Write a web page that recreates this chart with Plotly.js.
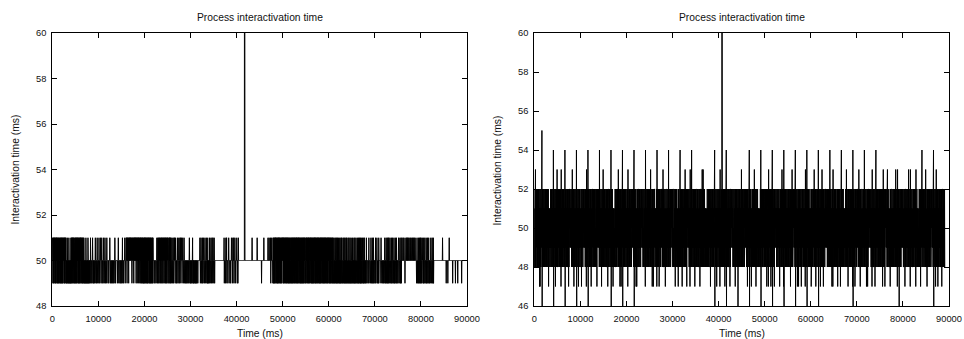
<!DOCTYPE html>
<html>
<head>
<meta charset="utf-8">
<script src="https://cdn.plot.ly/plotly-3.0.1.min.js"></script>
<style>
  html, body { margin: 0; padding: 0; background: #ffffff; }
  #chart { width: 964px; height: 339px; }
</style>
</head>
<body>
<div id="chart"></div>
<script>
// Sample codes: each character is one activation.
const levels = {"1":46,"2":47,"3":48,"4":49,"5":50,"6":51,"7":52,"8":53,"9":54,"A":55,"X":80};

// Left chart: 1000 ms per string (20 activations of ~50 ms)
const leftSamples = [
  "56464654656465464656","46546465464565464654","64654646556464654656","45454654545465454545",
  "46465464656465465464","56464654656465464654","64656465465464654654","54545465454545465454",
  "54555465545554565545","45545556545545565455","55465545556545565455","54565545565455545655",
  "55455545556554555455","54555455545565545555","55545556545555455545","45555645554555565455",
  "56565465656546565656","65656545656565465656","56564656546565646565","46564654656465464564",
  "64656465465464654656","46546465464565464655","55455545555455655465","46554656546554656465",
  "54656546556465465465","65465546564654656455","55465545656554565545","54565545565455645655",
  "56545565545565455545","54554555455545565455","45455455564545455455","54545455455545555555",
  "56545565545465545655","54565545565455464545","55465545565455645565","54565455555555555555",
  "55555555555555555555","55555564555545655645","55545565555455545565","55546555645556545555",
  "56545545655555555555","555555555555555X5555","55555555555555555555","55555556555555555555",
  "55555555565555555555","55555555455555555565","55555555555555556555","56555556455565555465",
  "46465464656465465464","64656465465464654656","56464654656465464656","46546465464565464654",
  "64654646556464654656","46465464656465465464","65464654646546564654","46564654656464654656",
  "64654646546465464656","46465465464656465464","56464654656465464654","64656465465464654656",
  "46546465464565464654","46545465456454654645","54654546545464564554","46545645465454654645",
  "54564546545465454654","45465455464546545465","54546545464556454645","46545465545464654554",
  "55465545555455645555","54565545465455645455","55465455565455454655","55545556554555455545",
  "54565545465455645465","46545565545465455645","55465454565455645455","54565545565454645565",
  "55565556555455565556","56555655565555655565","55565556555655565555","54565545465455645465",
  "46545565545465455645","55465454565455645455","54565545565454645555","55555555555555555555",
  "55555555555555655555","55555555554555555455","55565555555555555545","55555555554555555555",
  "45555555555555555455","55555555555555555555"
];

// Right chart: one line per ~2500 ms period between the large 54 ms spikes
const rightSamples = [
  ["7363783737","6473736473","7362726373","647"],
  ["A173647363","7364737463","7353746372","6364635473","6473736473"],
  ["9173647362","7463738373","3747363747","6372836473","7364737463"],
  ["9174736373","3736472637","7475647463","7383746372","7363746373"],
  ["9173647362","7364737463","3627374637","4757464737","6372836473"],
  ["9174736373","4737263747","7363746373","7353746372","7475647463"],
  ["9373647362","7463738373","6473736473","3736472637","7364737463"],
  ["9173647362","6364635473","3747363747","7383746372","4737263747"],
  ["9174736373","7364737463","6372836473","7363746373","4757464737"],
  ["9173647362","3627374637","7364737463","7475647463","7353746372"],
  ["9374637473","6473736473","7383746372","4737263747","7364636372"],
  ["9373647362","3747363747","7463738373","3736472637","7363746373"],
  ["9374637473","4757464737","7353746372","7364737463","3627374637"],
  ["9373647362","7363746373","7383746372","7475647463","6372836473"],
  ["9374637473","4737263747","7364737463","3736472637","7463738373"],
  ["8373647363","6364635473","6473736473","3627374637","3747363747"],
  ["9173647362","7364737463","6372836473","73X3746373","4737263747"],
  ["9174736373","3736472637","7475647463","7353746372","7364737463"],
  ["7163746373","7463738373","7363746373","4757464737","3627374637"],
  ["9173647362","6473736473","7383746372","7364737463","6364635473"],
  ["9174736373","3747363747","3736472637","6372836473","4737263747"],
  ["9173647362","7475647463","7364737463","3627374637","7383746372"],
  ["9174736373","7363746373","7353746372","7463738373","4757464737"],
  ["9173647362","4737263747","3736472637","6473736473","6372836473"],
  ["9174736373","7364636372","3747363747","7383746372","7364737463"],
  ["9173647362","7463738373","3627374637","7475647463","7363746373"],
  ["9373647362","6372836473","7364737463","4737263747","3736472637"],
  ["9374637473","6364635473","7383746372","6473736473","7353746372"],
  ["9173647362","3747363747","7463738373","3627374637","7364737463"],
  ["9373647362","4737263747","7475647463","6372836473","3736472637"],
  ["9374637473","7364737463","7353746372","7383746372","4757464737"],
  ["8373647363","3627374637","7363746373","7463738373","6372836473"],
  ["7163746373","7475647463","3736472637","7364737463","7383746372"],
  ["8373647363","3747363747","6372836473","6364635473","4737263747"],
  ["9374637473","7463738373","3627374637","6473736473","4757464737"],
  ["9173647362","7383746372","7364737463","3736472637","7353746373"]
];

const chartTitle = "Process interactivation time";
const xTitle = "Time (ms)";
const yTitle = "Interactivation time (ms)";
const xTicks = [0, 10000, 20000, 30000, 40000, 50000, 60000, 70000, 80000, 90000];
const leftYTicks = [48, 50, 52, 54, 56, 58, 60];
const rightYTicks = [46, 48, 50, 52, 54, 56, 58, 60];

function decode(str) {
  const y = Array.from(str).map(c => levels[c]);
  const x = [];
  let t = 0;               // activation instants = running sum of the interactivation times
  for (const v of y) { x.push(t); t += v; }
  return {x, y};
}

const L = decode(leftSamples.join(""));
const R = decode(rightSamples.map(p => p.join("")).join(""));

const FONT = "Liberation Sans, Arial, Helvetica, sans-serif";
const lineStyle = {color: "#000000", width: 1, simplify: false, shape: "linear"};

const traces = [
  {x: L.x, y: L.y, type: "scatter", mode: "lines", line: lineStyle, xaxis: "x", yaxis: "y", hoverinfo: "skip"},
  {x: R.x, y: R.y, type: "scatter", mode: "lines", line: lineStyle, xaxis: "x2", yaxis: "y2", hoverinfo: "skip"}
];

function axisBase(extra) {
  return Object.assign({
    showline: true, linecolor: "#000000", linewidth: 1, mirror: "ticks",
    ticks: "inside", ticklen: 5, tickwidth: 1, tickcolor: "#000000",
    showgrid: false, zeroline: false, fixedrange: true,
    tickfont: {family: FONT, size: 9.3, color: "#111111"},
    tickmode: "array"
  }, extra);
}

const W = 964, H = 339;
const px = v => v / W, py = v => 1 - v / H;

const layout = {
  width: W, height: H,
  margin: {l: 0, r: 0, t: 0, b: 0, pad: 0},
  paper_bgcolor: "#ffffff", plot_bgcolor: "#ffffff",
  showlegend: false,
  font: {family: FONT, color: "#111111"},
  xaxis: axisBase({domain: [px(52.3), px(467)], anchor: "y", range: [0, 90000], tickvals: xTicks, ticktext: xTicks.map(String), ticklabelstandoff: 4}),
  yaxis: axisBase({domain: [py(306), py(33)], anchor: "x", range: [48, 60], tickvals: leftYTicks, ticktext: leftYTicks.map(String), ticklabelstandoff: 3}),
  xaxis2: axisBase({domain: [px(534.3), px(949)], anchor: "y2", range: [0, 90000], tickvals: xTicks, ticktext: xTicks.map(String), ticklabelstandoff: 4}),
  yaxis2: axisBase({domain: [py(306), py(33)], anchor: "x2", range: [46, 60], tickvals: rightYTicks, ticktext: rightYTicks.map(String), ticklabelstandoff: 3}),
  annotations: [
    {text: chartTitle, xref: "paper", yref: "paper", x: px(259.6), y: py(17), xanchor: "center", yanchor: "middle", showarrow: false, font: {family: FONT, size: 10.3, color: "#111111"}},
    {text: chartTitle, xref: "paper", yref: "paper", x: px(741.6), y: py(17), xanchor: "center", yanchor: "middle", showarrow: false, font: {family: FONT, size: 10.3, color: "#111111"}},
    {text: xTitle, xref: "paper", yref: "paper", x: px(259.6), y: py(333.5), xanchor: "center", yanchor: "middle", showarrow: false, font: {family: FONT, size: 10.3, color: "#111111"}},
    {text: xTitle, xref: "paper", yref: "paper", x: px(741.6), y: py(333.5), xanchor: "center", yanchor: "middle", showarrow: false, font: {family: FONT, size: 10.3, color: "#111111"}},
    {text: yTitle, xref: "paper", yref: "paper", x: px(14.5), y: py(170), xanchor: "center", yanchor: "middle", textangle: -90, showarrow: false, font: {family: FONT, size: 10.3, color: "#111111"}},
    {text: yTitle, xref: "paper", yref: "paper", x: px(496.5), y: py(170), xanchor: "center", yanchor: "middle", textangle: -90, showarrow: false, font: {family: FONT, size: 10.3, color: "#111111"}}
  ]
};

Plotly.newPlot("chart", traces, layout, {staticPlot: true, displayModeBar: false});
</script>
</body>
</html>
